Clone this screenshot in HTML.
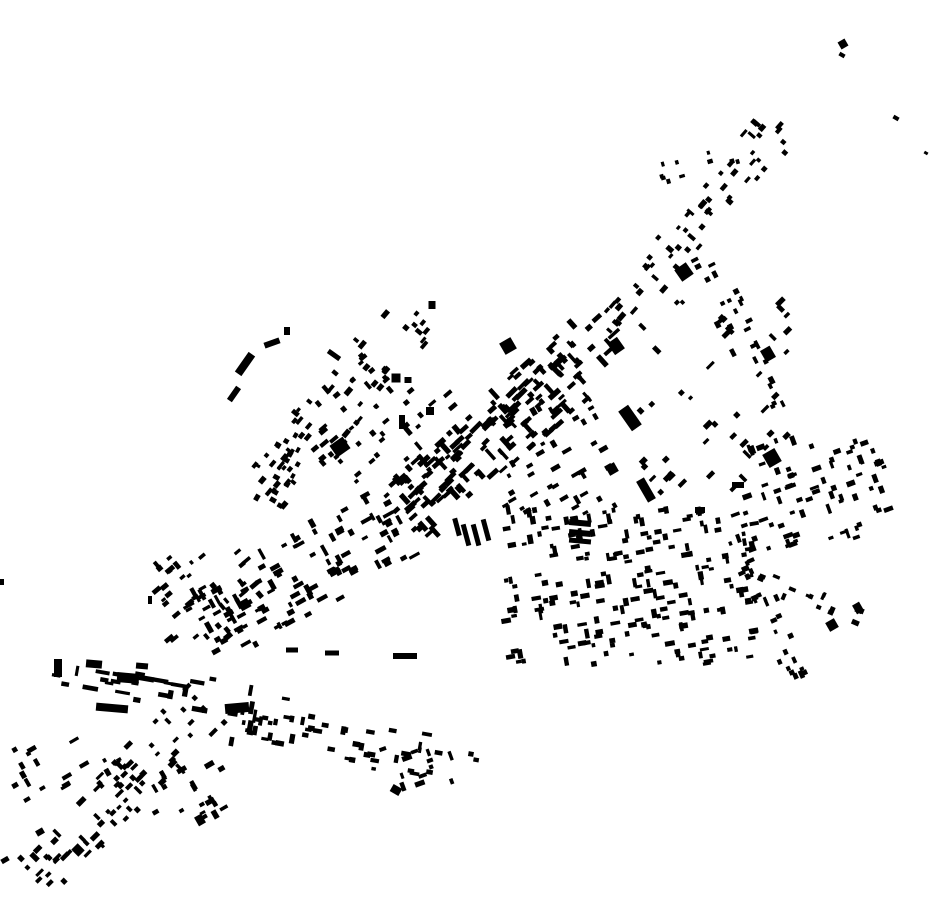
<!DOCTYPE html>
<html><head><meta charset="utf-8">
<style>html,body{margin:0;padding:0;background:#fff;width:930px;height:924px;overflow:hidden}</style>
</head><body>
<svg id="s" xmlns="http://www.w3.org/2000/svg" width="930" height="924" viewBox="0 0 930 924"></svg>
<script>
var s=document.getElementById('s');
var seed=12345;
function r(){seed=(seed*16807)%2147483647;return (seed-1)/2147483646;}
var out=[];
function rect(x,y,w,h,a){out.push('<rect x="'+(x-w/2).toFixed(1)+'" y="'+(y-h/2).toFixed(1)+'" width="'+w.toFixed(1)+'" height="'+h.toFixed(1)+'" transform="rotate('+a.toFixed(0)+' '+x.toFixed(1)+' '+y.toFixed(1)+')"/>');}
function seg(x1,y1,x2,y2,sp,n,smin,smax){
 var ang=Math.atan2(y2-y1,x2-x1)*180/Math.PI;
 var dx=x2-x1,dy=y2-y1,L=Math.sqrt(dx*dx+dy*dy),nx=-dy/L,ny=dx/L;
 for(var i=0;i<n;i++){var t=r(),o=(r()-0.5)*2*sp;
  var x=x1+dx*t+nx*o,y=y1+dy*t+ny*o;
  var w=smin+r()*(smax-smin),h=3+r()*2.5;
  rect(x,y,w,h,ang+(r()<0.3?90:0));}
}
function box(x1,y1,x2,y2,n,ang){
 for(var i=0;i<n;i++){var x=x1+r()*(x2-x1),y=y1+r()*(y2-y1);
  var w=4+r()*6,h=3+r()*2.5;rect(x,y,w,h,ang+(r()<0.4?90:0));}
}
function blob(cx,cy,rx,ry,n,ang){
 for(var i=0;i<n;i++){var a=r()*6.283,d=Math.sqrt(r());
  var x=cx+Math.cos(a)*rx*d,y=cy+Math.sin(a)*ry*d;
  var w=4+r()*6,h=3+r()*2.5;rect(x,y,w,h,ang+(r()<0.4?90:0));}
}
seg(780,125,600,330,22,60,4,9);
seg(745,150,660,175,10,10,3,6);
seg(700,250,780,410,18,25,4,9);
seg(612,330,400,520,35,130,5,14);
seg(400,520,200,630,40,110,5,12);
seg(560,360,420,500,12,35,6,16);
blob(380,420,80,70,55,-40);
seg(420,305,260,495,30,50,4,9);
seg(300,430,260,500,20,18,4,7);
box(500,400,620,520,40,-30);
box(640,300,790,500,45,-45);
box(500,510,760,665,200,-10);
box(730,440,890,550,80,-20);
seg(745,555,800,680,12,25,4,8);
seg(740,570,860,620,10,15,4,8);
box(150,550,260,640,35,-40);
seg(55,668,300,712,18,28,6,16);
seg(210,700,30,880,28,75,4,10);
seg(220,720,480,765,22,50,4,10);
box(10,740,120,800,18,-30);
box(150,760,230,820,20,-30);
box(380,745,460,795,12,-20);
var big=[[340,447,16,14,-35],[508,346,13,13,-30],[768,354,11,13,-30],[772,458,14,15,-30],[630,418,12,24,-35],[646,490,9,24,-30],
[237,708,24,10,-5],[405,656,24,6,0],[128,678,22,10,5],[112,708,32,8,5],[58,668,8,18,0],[94,664,16,8,5],[142,666,12,6,5],
[832,625,10,10,-30],[858,608,8,10,-30],[843,44,8,8,-30],[842,55,6,4,30],[896,118,6,4,30],[926,153,4,3,30],
[245,364,24,8,-55],[272,343,16,6,-20],[287,331,6,8,0],[234,394,16,6,-55],[334,355,14,5,35],[432,305,7,8,0],
[466,535,5,22,-15],[476,535,5,22,-15],[486,530,5,22,-15],[457,527,5,18,-15],[580,523,22,6,5],[580,533,22,6,5],[580,541,22,5,5],
[616,346,12,14,-35],[684,272,14,14,-35],[612,469,10,10,-30],[430,411,8,8,0],[396,378,9,9,0],[408,380,7,6,0],[402,422,6,14,0],
[332,653,14,5,0],[292,650,12,5,0],[78,850,9,10,-45],[396,790,10,8,30],[200,820,8,10,-30],[700,510,10,6,0],[738,485,12,6,0],
[40,832,8,6,-30],[5,860,8,5,-30],[2,582,4,6,0],[150,600,4,8,0]];
big.forEach(function(b){rect(b[0],b[1],b[2],b[3],b[4]);});
s.innerHTML='<g fill="#000">'+out.join('')+'</g>';
</script>
</body></html>
